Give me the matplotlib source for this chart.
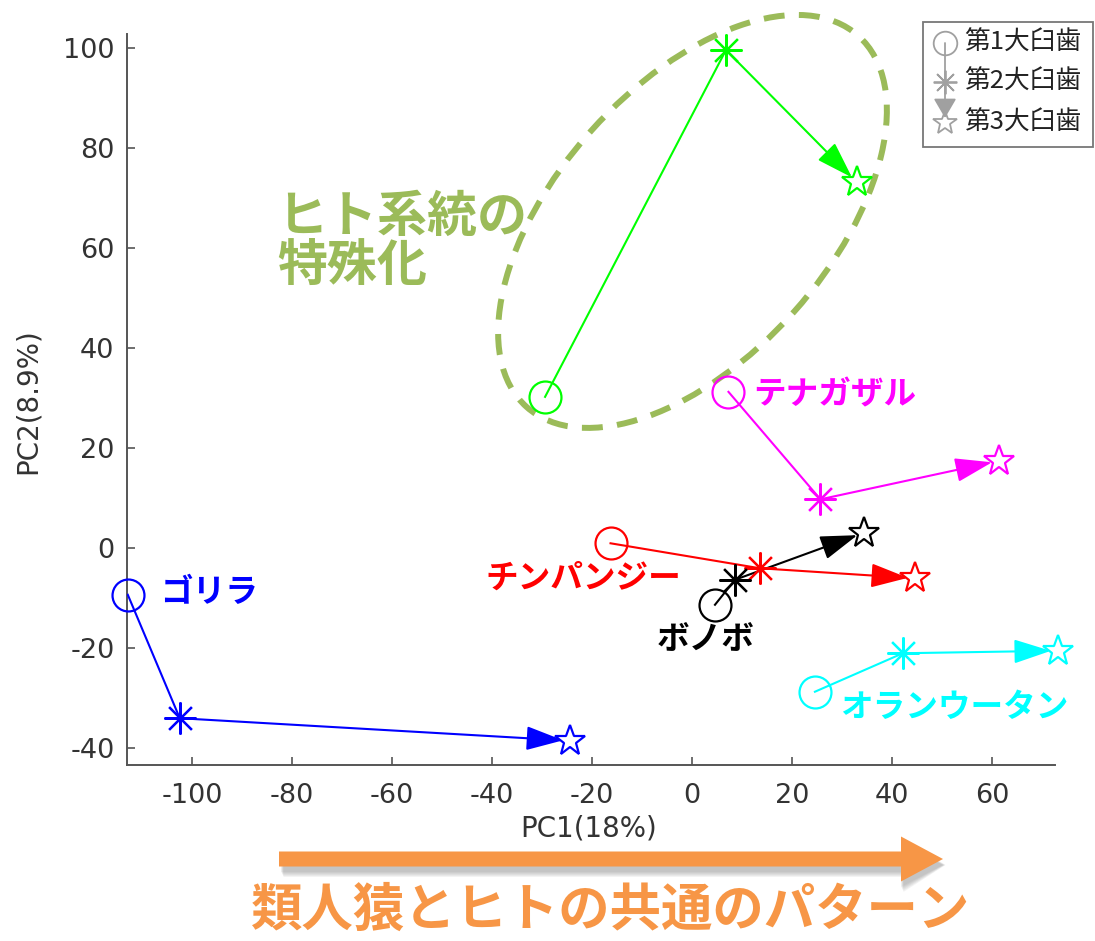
import matplotlib
matplotlib.use('Agg')
import matplotlib.pyplot as plt
from matplotlib.patches import Ellipse, FancyArrow, Rectangle

plt.rcParams['font.family'] = ['DejaVu Sans']
plt.rcParams['axes.unicode_minus'] = False
jp = ['Noto Sans CJK JP', 'DejaVu Sans']

# PC scores of the 1st / 2nd / 3rd molar for each species
species = ['ヒト', 'テナガザル', 'チンパンジー', 'ボノボ', 'ゴリラ', 'オランウータン']
colors = ['#00ff00', '#ff00ff', '#ff0000', '#000000', '#0000ff', '#00ffff']
m1_x = [-29.4, 7.3, -16.3, 4.6, -112.9, 24.6]
m1_y = [30.3, 31.3, 1.0, -11.3, -9.3, -28.7]
m2_x = [6.8, 25.7, 13.6, 8.6, -102.5, 42.2]
m2_y = [99.7, 9.8, -4.0, -6.3, -34.0, -21.0]
m3_x = [33.0, 61.4, 44.6, 34.4, -24.4, 73.2]
m3_y = [73.2, 17.5, -6.0, 3.1, -38.5, -20.5]

xticks = [-100, -80, -60, -40, -20, 0, 20, 40, 60]
yticks = [-40, -20, 0, 20, 40, 60, 80, 100]
legend_labels = ['第1大臼歯', '第2大臼歯', '第3大臼歯']

# where the species names go (left edge, vertical centre)
name_pos = {'テナガザル': (12.2, 30.7), 'チンパンジー': (-41.4, -5.9),
            'ボノボ': (-7.0, -18.3), 'ゴリラ': (-106.5, -8.9),
            'オランウータン': (29.6, -31.9)}

green = '#9bbb59'
orange = '#f79646'
asterisk = (8, 2, 0)

fig = plt.figure(figsize=(10.95, 9.41), dpi=100)
ax = fig.add_axes([0.11598, 0.18704, 0.84749, 0.77683])
ax.set_xlim(-113.06, 72.64)
ax.set_ylim(-43.36, 102.9)
for s in ['top', 'right']:
    ax.spines[s].set_visible(False)
for s in ['left', 'bottom']:
    ax.spines[s].set_color('#555555')
    ax.spines[s].set_linewidth(1.4)
ax.set_xticks(xticks)
ax.set_yticks(yticks)
ax.tick_params(direction='in', length=6, width=1.2, color='#555555',
               labelcolor='#333333', labelsize=19.5)
ax.tick_params(axis='x', pad=13)
ax.tick_params(axis='y', pad=9)
ax.set_xlabel('PC1(18%)', fontsize=20, color='#333333')
ax.set_ylabel('PC2(8.9%)', fontsize=20, color='#333333')
ax.xaxis.set_label_coords(0.497, -0.068)
ax.yaxis.set_label_coords(-0.0916, 0.498)

# human lineage highlight
ax.add_patch(Ellipse((0.1, 65.4), 99.6, 54.4, angle=48.2, fill=False,
                     ec=green, lw=4.3, ls=(0, (3.5, 2.4)), clip_on=False, zorder=1))
ax.text(-83, 66.3, 'ヒト系統の', fontsize=36, color=green, fontweight='bold',
        family=jp, ha='left', va='center')
ax.text(-83, 56.3, '特殊化', fontsize=36, color=green, fontweight='bold',
        family=jp, ha='left', va='center')

for i, sp in enumerate(species):
    c = colors[i]
    ax.plot([m1_x[i], m2_x[i]], [m1_y[i], m2_y[i]], color=c, lw=1.5, zorder=3)
    ax.annotate('', xy=(m3_x[i], m3_y[i]), xytext=(m2_x[i], m2_y[i]),
                arrowprops=dict(arrowstyle='-|>,head_length=2.3,head_width=0.75',
                                mutation_scale=10, color=c, lw=1.5,
                                shrinkA=0, shrinkB=5),
                annotation_clip=False, zorder=3)
    ax.plot(m1_x[i], m1_y[i], 'o', ms=23, mfc='none', mec=c, mew=1.6,
            clip_on=False, zorder=4)
    ax.plot(m2_x[i], m2_y[i], marker=asterisk, ms=23, mec=c, mew=1.6,
            clip_on=False, zorder=4)
    ax.plot(m3_x[i], m3_y[i], '*', ms=23, mfc='white', mec=c, mew=1.6,
            clip_on=False, zorder=4)
    if sp in name_pos:
        nx, ny = name_pos[sp]
        ax.text(nx, ny, sp, fontsize=23.5, color=c, fontweight='bold',
                family=jp, ha='left', va='center', zorder=5)

# overlay in pixel units for the legend and the bottom arrow
ov = fig.add_axes([0, 0, 1, 1])
ov.set_xlim(0, 1095)
ov.set_ylim(941, 0)
ov.axis('off')
ov.patch.set_visible(False)

ov.add_patch(Rectangle((923, 22), 170, 125, fill=False, ec='#777777', lw=1.3))
leg_y = [43, 82, 123]
ov.annotate('', xy=(945, leg_y[2] - 5), xytext=(945, leg_y[0]),
            arrowprops=dict(arrowstyle='-|>,head_length=1.2,head_width=0.7',
                            mutation_scale=10, color='#a0a0a0', lw=1.3,
                            shrinkA=0, shrinkB=0))
ov.plot(945, leg_y[0], 'o', ms=17, mfc='white', mec='#a0a0a0', mew=1.3)
ov.plot(945, leg_y[1], marker=asterisk, ms=17, mec='#a0a0a0', mew=1.3)
ov.plot(945, leg_y[2], '*', ms=18, mfc='none', mec='#a0a0a0', mew=1.3)
for y, lab in zip(leg_y, legend_labels):
    ov.text(964, y, lab, fontsize=18.5, family=jp, color='#222222',
            ha='left', va='center')

# soft shadow under the orange arrow
for k in range(6):
    ov.add_patch(FancyArrow(281 + k * 0.5, 865, 662, 0, width=14 + 2 * k,
                            head_width=44 + 2 * k, head_length=42,
                            length_includes_head=True, color='#606060',
                            alpha=0.07, lw=0))
ov.add_patch(FancyArrow(279, 859, 664, 0, width=15, head_width=45, head_length=42,
                        length_includes_head=True, color=orange, lw=0))
ov.text(611, 910, '類人猿とヒトの共通のパターン', fontsize=37, color=orange,
        fontweight='bold', family=jp, ha='center', va='center')

fig.savefig('out.png', dpi=100)
